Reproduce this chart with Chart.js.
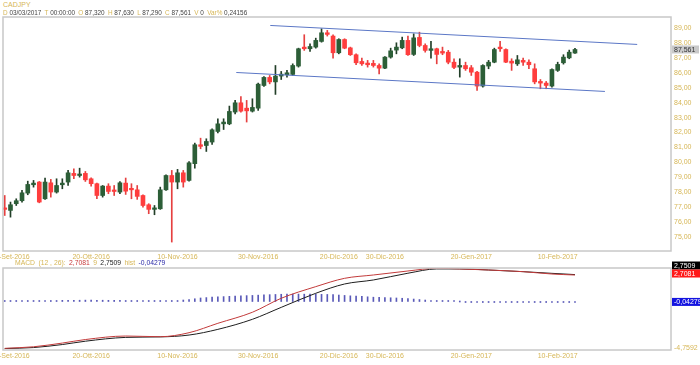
<!DOCTYPE html>
<html>
<head>
<meta charset="utf-8">
<script src="https://cdn.jsdelivr.net/npm/chart.js@4.4.0/dist/chart.umd.min.js"></script>
<style>
  body { margin: 0; width: 700px; height: 365px; overflow: hidden; background: #fff; position: relative; font-family: "Liberation Sans", Arial, sans-serif; }
  canvas { position: absolute; }
  #main { left: -20px; top: 9px; }
  #macd { left: -20px; top: 258px; }
  .hdr { position: absolute; font-size: 6.4px; line-height: 8px; white-space: nowrap; color: #444; }
  .hdr span { margin-right: 1.5px; }
  .hdr i { font-style: normal; color: #d6b656; }
  .g { color: #d6b656; }
  .r { color: #c83a3a; }
  .k { color: #222; }
  .b { color: #2a2aa8; }
</style>
</head>
<body>
<canvas id="main" width="720" height="253"></canvas>
<canvas id="macd" width="720" height="107"></canvas>

<div class="hdr g" style="left:3px; top:1px; font-size:7px;">CADJPY</div>
<div class="hdr" style="left:3px; top:9px;">
  <span><i>D</i> 03/03/2017</span>
  <span><i>T</i> 00:00:00</span>
  <span><i>O</i> 87,320</span>
  <span><i>H</i> 87,630</span>
  <span><i>L</i> 87,290</span>
  <span><i>C</i> 87,561</span>
  <span><i>V</i> 0</span>
  <span><i>Var%</i> 0,24156</span>
</div>
<div class="hdr" style="left:15px; top:259px; font-size:6.8px;">
  <span class="g">MACD</span>
  <span class="g">(12 , 26):</span>
  <span class="r">2,7081</span>
  <span class="g">9</span>
  <span class="k">2,7509</span>
  <span class="g">hist</span>
  <span class="b">-0,04279</span>
</div>

<script>
// candles (daily, 29-Set-2016 .. 15-Feb-2017)
const opens = [
  76.94, 76.78, 77.23, 77.43, 77.94, 78.50, 78.68, 77.56, 78.63, 78.01,
  78.50, 78.68, 79.26, 79.12, 79.26, 78.90, 78.57, 77.78, 78.41, 78.12,
  78.01, 78.61, 78.23, 78.16, 77.78, 77.16, 76.85, 76.89, 78.16, 79.12,
  78.68, 79.30, 78.79, 79.91, 81.18, 81.13, 81.36, 82.07, 82.58, 82.58,
  83.37, 83.99, 83.63, 83.43, 83.63, 85.15, 85.69, 85.39, 85.78, 85.87,
  85.89, 86.45, 87.72, 87.61, 87.72, 88.10, 88.68, 88.46, 87.34, 88.23,
  87.67, 87.21, 86.76, 86.65, 86.63, 86.49, 86.31, 87.05, 87.52, 87.67,
  88.17, 87.23, 88.37, 87.83, 87.50, 87.61, 87.43, 87.38, 86.71, 86.38,
  86.49, 86.34, 86.04, 85.11, 86.45, 86.71, 87.72, 87.56, 86.78, 86.60,
  86.83, 86.71, 86.27, 85.42, 85.31, 85.11, 86.16, 86.67, 87.00, 87.32,
];
const highs = [
  77.78, 77.34, 77.56, 78.12, 78.74, 78.79, 78.72, 78.95, 78.86, 78.90,
  78.90, 79.46, 79.57, 79.61, 79.39, 78.97, 78.61, 78.45, 78.57, 78.45,
  78.72, 78.95, 78.57, 78.45, 77.83, 77.23, 77.11, 78.34, 79.17, 79.46,
  79.53, 79.46, 80.06, 81.29, 81.62, 81.58, 82.25, 82.92, 82.92, 83.77,
  84.15, 84.41, 84.15, 84.26, 85.31, 85.75, 85.82, 86.49, 86.09, 86.16,
  86.60, 87.65, 88.55, 87.94, 88.32, 88.95, 88.84, 88.55, 88.28, 88.28,
  87.72, 87.27, 86.98, 86.83, 86.83, 86.60, 87.09, 87.65, 88.01, 88.39,
  88.46, 88.61, 88.72, 87.94, 88.10, 87.65, 87.72, 87.50, 86.94, 86.94,
  86.71, 86.49, 86.09, 86.54, 86.83, 87.65, 88.10, 87.61, 86.94, 87.16,
  86.98, 86.87, 86.60, 85.55, 85.42, 86.27, 86.71, 87.21, 87.52, 87.63,
];
const lows = [
  76.44, 76.33, 77.11, 77.34, 77.83, 78.34, 77.29, 77.52, 77.67, 77.94,
  78.23, 78.45, 78.90, 79.01, 78.72, 78.41, 77.56, 77.67, 77.90, 77.78,
  77.90, 77.85, 77.56, 77.52, 77.00, 76.56, 76.49, 76.85, 78.12, 74.66,
  78.23, 78.34, 78.74, 79.61, 80.91, 80.73, 81.20, 81.98, 82.20, 82.52,
  83.25, 83.37, 82.70, 83.37, 83.48, 85.08, 85.26, 84.55, 85.55, 85.71,
  85.82, 86.38, 87.50, 87.43, 87.65, 88.05, 88.46, 86.98, 87.27, 87.61,
  87.16, 86.54, 86.49, 86.38, 86.38, 85.93, 86.27, 86.98, 87.27, 87.61,
  87.16, 87.16, 87.74, 87.38, 86.98, 86.60, 87.21, 86.60, 86.27, 85.71,
  86.16, 85.82, 84.82, 85.04, 86.27, 86.67, 87.43, 86.67, 86.16, 86.49,
  86.49, 86.27, 85.26, 84.93, 84.93, 85.04, 86.09, 86.58, 86.94, 87.29,
];
const closes = [
  76.85, 77.16, 77.43, 77.96, 78.52, 78.61, 77.34, 78.68, 78.01, 78.45,
  78.61, 79.30, 79.12, 79.21, 78.83, 78.57, 77.78, 78.41, 78.05, 78.05,
  78.63, 78.07, 78.16, 77.72, 77.11, 76.85, 76.94, 78.16, 79.12, 78.68,
  79.30, 78.68, 79.97, 81.18, 81.07, 81.40, 82.18, 82.58, 82.70, 83.41,
  83.99, 83.43, 83.45, 83.68, 85.24, 85.69, 85.39, 85.78, 85.91, 86.00,
  86.49, 87.61, 87.61, 87.76, 88.17, 88.68, 88.57, 87.34, 88.23, 87.65,
  87.21, 86.67, 86.60, 86.54, 86.49, 86.31, 87.05, 87.47, 87.72, 88.17,
  87.21, 88.34, 87.83, 87.50, 87.61, 87.23, 87.32, 86.71, 86.36, 86.49,
  86.27, 86.04, 85.11, 86.49, 86.71, 87.56, 87.61, 86.71, 86.65, 86.87,
  86.71, 86.54, 85.39, 85.31, 85.15, 86.22, 86.56, 87.05, 87.38, 87.561,
];

// trend channel (candle index, price)
const upperX = [46.1, 109.8];
const upperY = [89.17, 87.90];
const lowerX = [40.2, 104.2];
const lowerY = [86.02, 84.75];

// MACD panel, read at these candle indices
const macdIdx    = [0, 5, 10, 14, 21, 27, 32, 37, 43, 48, 54, 59, 64, 70, 75, 79, 84, 90, 95, 99];
const macdLine   = [-4.79, -4.63, -4.25, -3.89, -3.53, -3.60, -3.19, -2.23, -1.10, 0.33, 1.52, 2.37, 2.71, 3.12, 3.40, 3.33, 3.22, 3.05, 2.81, 2.7081];
const signalLine = [-4.81, -4.71, -4.40, -4.06, -3.67, -3.62, -3.43, -2.85, -1.82, -0.60, 0.84, 1.79, 2.20, 2.89, 3.33, 3.33, 3.22, 3.05, 2.88, 2.7509];
const hist = [
  0.03, 0.04, 0.05, 0.06, 0.07, 0.08, 0.09, 0.10, 0.10, 0.10,
  0.12, 0.12, 0.13, 0.13, 0.14, 0.14, 0.13, 0.13, 0.12, 0.12,
  0.11, 0.10, 0.09, 0.08, 0.06, 0.04, 0.02, 0.01, 0.02, 0.05,
  0.10, 0.15, 0.20, 0.28, 0.36, 0.40, 0.44, 0.47, 0.50, 0.53,
  0.56, 0.58, 0.60, 0.62, 0.65, 0.68, 0.70, 0.72, 0.74, 0.75,
  0.76, 0.76, 0.75, 0.75, 0.74, 0.73, 0.72, 0.70, 0.66, 0.62,
  0.58, 0.55, 0.52, 0.48, 0.44, 0.42, 0.40, 0.38, 0.36, 0.33,
  0.30, 0.25, 0.20, 0.15, 0.10, 0.07, 0.05, 0.03, 0.01, 0.00,
  -0.01, -0.02, -0.02, -0.03, -0.03, -0.04, -0.04, -0.04, -0.05, -0.05,
  -0.05, -0.06, -0.06, -0.06, -0.07, -0.07, -0.06, -0.05, -0.05, -0.04279,
];

// axis ticks
const priceTicks = [75, 76, 77, 78, 79, 80, 81, 82, 83, 84, 85, 86, 87, 88, 89];
const xTickIdx = [1, 15, 30, 44, 58, 66, 81, 96];
const xTickLabels = ["30-Set-2016", "20-Ott-2016", "10-Nov-2016", "30-Nov-2016", "20-Dic-2016", "30-Dic-2016", "20-Gen-2017", "10-Feb-2017"];
const macdTicks = [-4.7592];

const GOLD = "#d6b656";
const UP = "#2c5e37", UP_WICK = "#223f28";
const DOWN = "#ff3d3d", DOWN_WICK = "#e64040";
const FRAME = "#c8c8c8";

Chart.defaults.font.family = "'Liberation Sans', Arial, sans-serif";
Chart.defaults.font.size = 7;
Chart.defaults.animation = false;

const comma = (v, d) => v.toFixed(d).replace(".", ",");
const isUp = closes.map((c, i) => c >= opens[i]);

const framePlugin = {
  id: "frame",
  afterDraw(chart) {
    const { ctx, chartArea: a } = chart;
    ctx.save();
    ctx.strokeStyle = FRAME;
    ctx.lineWidth = 1.5;
    ctx.strokeRect(a.left, a.top, a.right - a.left, a.bottom - a.top);
    ctx.restore();
  },
};

function tag(ctx, x, y, w, h, bg, fg, text) {
  ctx.fillStyle = bg;
  ctx.fillRect(x, y - h / 2, w, h);
  ctx.fillStyle = fg;
  ctx.textBaseline = "middle";
  ctx.textAlign = "left";
  ctx.font = "7px 'Liberation Sans', Arial, sans-serif";
  ctx.fillText(text, x + 2, y + 0.5);
}

const priceTagPlugin = {
  id: "priceTag",
  afterDraw(chart) {
    const { ctx, chartArea: a } = chart;
    const last = closes[closes.length - 1];
    const y = chart.scales.y.getPixelForValue(last);
    ctx.save();
    tag(ctx, a.right + 1, y, 27, 8, "#c9c9c9", "#333", comma(last, 3));
    ctx.restore();
  },
};

const macdTagPlugin = {
  id: "macdTag",
  afterDraw(chart) {
    const { ctx, chartArea: a } = chart;
    const ys = chart.scales.y;
    const m = macdLine[macdLine.length - 1];
    const s = signalLine[signalLine.length - 1];
    const h = hist[hist.length - 1];
    const yRed = ys.getPixelForValue(m) - 1.5;
    ctx.save();
    tag(ctx, a.right + 1, yRed - 8, 29, 8, "#000", "#fff", comma(s, 4));
    tag(ctx, a.right + 1, yRed, 29, 8, "#ff1a1a", "#fff", comma(m, 4));
    ctx.font = "6.5px 'Liberation Sans', Arial, sans-serif";
    tag(ctx, a.right + 1, ys.getPixelForValue(h), 29, 8, "#1414e0", "#fff", comma(h, 5));
    ctx.restore();
  },
};

const xAxis = (min, max, h) => ({
  type: "linear",
  min: min,
  max: max,
  offset: false,
  grid: { display: false, drawTicks: false },
  border: { display: false },
  afterBuildTicks: (s) => { s.ticks = xTickIdx.map((v) => ({ value: v })); },
  afterFit: (s) => { s.height = h; },
  ticks: {
    autoSkip: false,
    maxRotation: 0,
    padding: 2,
    color: GOLD,
    callback: (v) => xTickLabels[xTickIdx.indexOf(v)] || "",
  },
});

const X_MIN = -0.3, X_MAX = 115.67;

// main price chart
new Chart(document.getElementById("main"), {
  type: "bar",
  data: {
    datasets: [
      {
        type: "line",
        data: upperX.map((x, i) => ({ x: x, y: upperY[i] })),
        borderColor: "#5b77c6",
        borderWidth: 1,
        pointRadius: 0,
        order: 0,
      },
      {
        type: "line",
        data: lowerX.map((x, i) => ({ x: x, y: lowerY[i] })),
        borderColor: "#5b77c6",
        borderWidth: 1,
        pointRadius: 0,
        order: 0,
      },
      {
        data: opens.map((o, i) => ({ x: i, y: [o, closes[i]] })),
        backgroundColor: isUp.map((u) => (u ? UP : DOWN)),
        barThickness: 4,
        minBarLength: 1.5,
        grouped: false,
        order: 1,
      },
      {
        data: lows.map((l, i) => ({ x: i, y: [l, highs[i]] })),
        backgroundColor: isUp.map((u) => (u ? UP_WICK : DOWN_WICK)),
        barThickness: 1,
        grouped: false,
        order: 2,
      },
    ],
  },
  options: {
    responsive: false,
    layout: { padding: { left: 23, top: 8, right: 0, bottom: 0 } },
    scales: {
      x: xAxis(X_MIN, X_MAX, 11),
      y: {
        position: "right",
        min: 74.062,
        max: 89.737,
        grid: { display: false, drawTicks: false },
        border: { display: false },
        afterBuildTicks: (s) => { s.ticks = priceTicks.map((v) => ({ value: v })); },
        afterFit: (s) => { s.width = 29; },
        ticks: { padding: 3, color: GOLD, callback: (v) => comma(v, 2) },
      },
    },
    plugins: { legend: { display: false }, tooltip: { enabled: false } },
  },
  plugins: [framePlugin, priceTagPlugin],
});

// MACD panel
new Chart(document.getElementById("macd"), {
  type: "line",
  data: {
    datasets: [
      {
        data: macdIdx.map((x, i) => ({ x: x, y: signalLine[i] })),
        borderColor: "#1e1e1e",
        borderWidth: 1,
        pointRadius: 0,
        cubicInterpolationMode: "monotone",
        order: 1,
      },
      {
        data: macdIdx.map((x, i) => ({ x: x, y: macdLine[i] })),
        borderColor: "#c23a3a",
        borderWidth: 1,
        pointRadius: 0,
        cubicInterpolationMode: "monotone",
        order: 0,
      },
      {
        type: "bar",
        data: hist.map((v, i) => ({ x: i, y: v })),
        backgroundColor: "#5a5ab8",
        barThickness: 1,
        minBarLength: 1,
        grouped: false,
        order: 2,
      },
    ],
  },
  options: {
    responsive: false,
    layout: { padding: { left: 23, top: 10, right: 0, bottom: 0 } },
    scales: {
      x: xAxis(X_MIN, X_MAX, 15),
      y: {
        position: "right",
        min: -4.959,
        max: 3.425,
        grid: { display: false, drawTicks: false },
        border: { display: false },
        afterBuildTicks: (s) => { s.ticks = macdTicks.map((v) => ({ value: v })); },
        afterFit: (s) => { s.width = 29; },
        ticks: { padding: 3, color: GOLD, callback: (v) => comma(v, 4) },
      },
    },
    plugins: { legend: { display: false }, tooltip: { enabled: false } },
  },
  plugins: [framePlugin, macdTagPlugin],
});
</script>
</body>
</html>
